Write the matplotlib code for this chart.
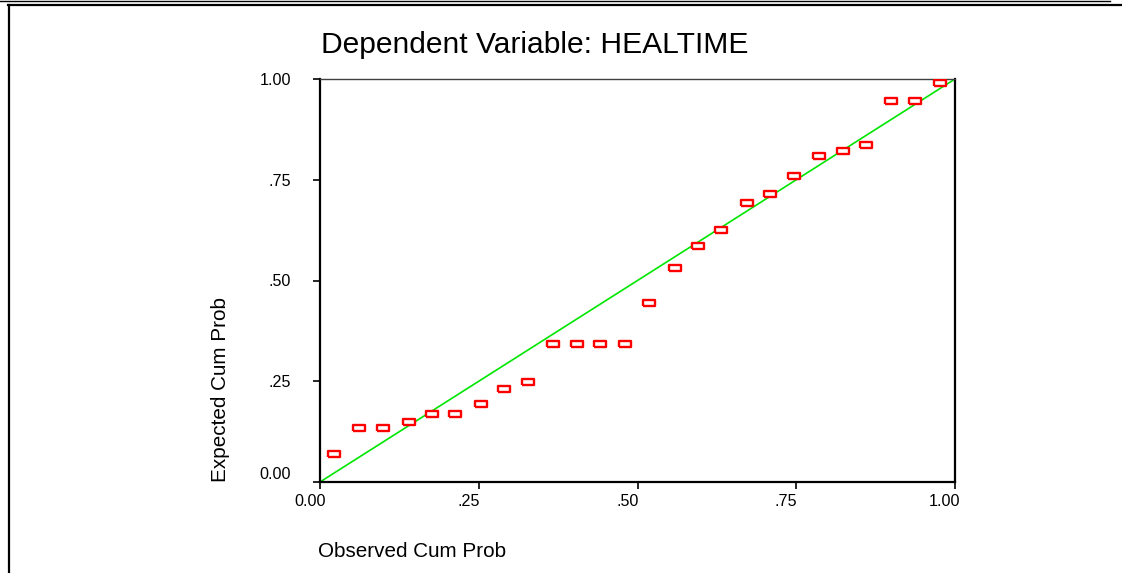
import matplotlib
matplotlib.use("Agg")
import matplotlib.pyplot as plt
from matplotlib.lines import Line2D
from matplotlib.transforms import ScaledTranslation

# values
observed = [0.022, 0.061, 0.099, 0.140, 0.176, 0.213, 0.254, 0.290, 0.327,
            0.367, 0.404, 0.441, 0.481, 0.518, 0.559, 0.595, 0.631, 0.672,
            0.709, 0.746, 0.786, 0.823, 0.860, 0.900, 0.937, 0.976]
expected = [0.069, 0.135, 0.135, 0.150, 0.169, 0.169, 0.194, 0.231, 0.249,
            0.342, 0.342, 0.342, 0.342, 0.445, 0.530, 0.586, 0.625, 0.692,
            0.715, 0.759, 0.810, 0.821, 0.836, 0.946, 0.946, 0.991]
ticks = [0.0, 0.25, 0.5, 0.75, 1.0]
tick_labels = ['0.00', '.25', '.50', '.75', '1.00']

plt.rcParams['font.family'] = ['Liberation Sans', 'DejaVu Sans']

W, H = 1122, 573
fig = plt.figure(figsize=(W / 100, H / 100), dpi=100, facecolor='white')
ax = fig.add_axes([320 / W, 1 - 482 / H, 635 / W, 403 / H])

ax.plot([0, 1], [0, 1], color='#00e600', linewidth=1.2, zorder=2)
rect = [(-1, -0.55), (1, -0.55), (1, 0.55), (-1, 0.55), (-1, -0.55)]
ax.plot(observed, expected, linestyle='none', marker=rect, markersize=8.5,
        markerfacecolor='white', markeredgecolor='#ff0000',
        markeredgewidth=1.7, zorder=3)

ax.set_xlim(0, 1)
ax.set_ylim(0, 1)
ax.set_xticks(ticks)
ax.set_xticklabels(tick_labels)
ax.set_yticks(ticks)
ax.set_yticklabels(tick_labels)
ax.tick_params(axis='both', direction='out', length=5, width=1.2,
               labelsize=11.6, colors='black')
ax.tick_params(axis='x', pad=3.4)
ax.tick_params(axis='y', pad=16.0)

for name in ['left', 'bottom', 'right']:
    ax.spines[name].set_linewidth(1.6)
    ax.spines[name].set_color('black')
ax.spines['top'].set_linewidth(1.0)
ax.spines['top'].set_color('#404040')

shift = ScaledTranslation(-10 / 100, 0, fig.dpi_scale_trans)
for lab in ax.get_xticklabels():
    lab.set_transform(lab.get_transform() + shift)
ax.get_yticklabels()[0].set_verticalalignment('bottom')

fig.text(321 / W, 1 - 53 / H, 'Dependent Variable: HEALTIME', fontsize=21.6,
         ha='left', va='baseline')
fig.text(318 / W, 1 - 557 / H, 'Observed Cum Prob', fontsize=14.9,
         ha='left', va='baseline')
fig.text(220 / W, 1 - 482 / H, 'Expected Cum Prob', fontsize=14.9,
         rotation=90, ha='center', va='bottom')

# page frame around the chart
fig.add_artist(Line2D([8 / W, 1], [1 - 4.5 / H, 1 - 4.5 / H],
                      transform=fig.transFigure, color='black', linewidth=1.6))
fig.add_artist(Line2D([0, 1110 / W], [1 - 1 / H, 1 - 1 / H],
                      transform=fig.transFigure, color='black', linewidth=1.0))
fig.add_artist(Line2D([9 / W, 9 / W], [0, 1 - 4.5 / H],
                      transform=fig.transFigure, color='black', linewidth=1.6))

fig.savefig('out.png', dpi=100, facecolor='white')
